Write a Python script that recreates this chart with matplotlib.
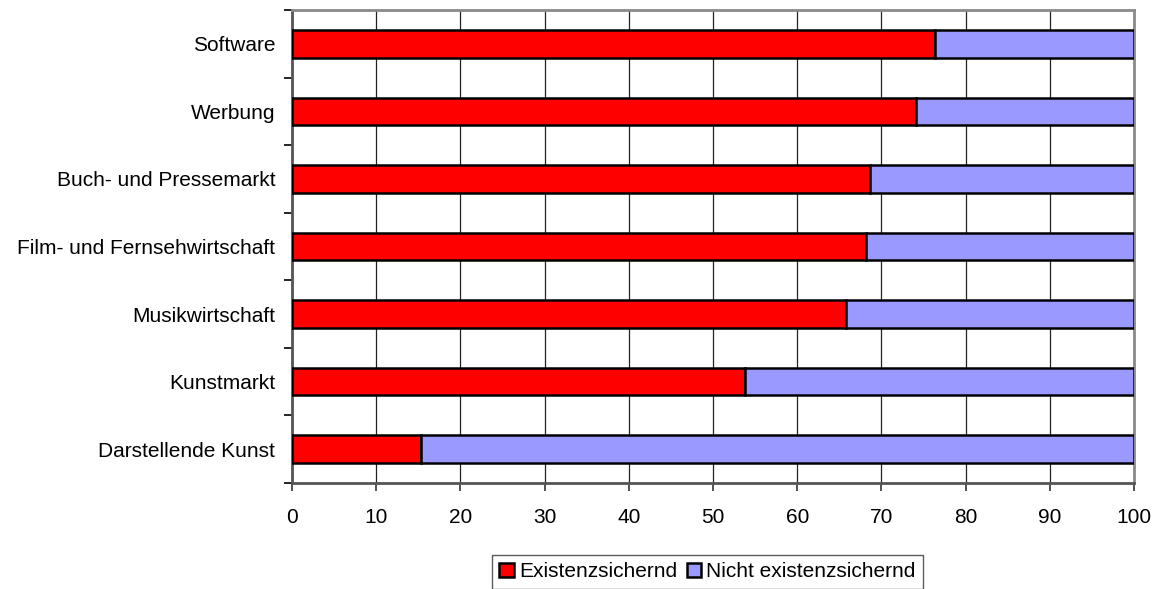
import matplotlib
matplotlib.use("Agg")
import matplotlib.pyplot as plt
from matplotlib.patches import Patch

categories = ["Software", "Werbung", "Buch- und Pressemarkt", "Film- und Fernsehwirtschaft",
              "Musikwirtschaft", "Kunstmarkt", "Darstellende Kunst"]
existenz = [76.4, 74.1, 68.7, 68.2, 65.8, 53.8, 15.3]
nicht = [100 - v for v in existenz]
series_names = ["Existenzsichernd", "Nicht existenzsichernd"]
colors = ["#FF0000", "#9999FF"]
xticks = [0, 10, 20, 30, 40, 50, 60, 70, 80, 90, 100]

plt.rcParams['font.family'] = ['Liberation Sans', 'DejaVu Sans']
fig = plt.figure(figsize=(11.58, 5.89), dpi=100)
W, H = 1158, 589
ax = fig.add_axes([292 / W, 1 - 483 / H, (1134 - 292) / W, (483 - 10) / H])

FS = 15
n = len(categories)
ypos = [n - 1 - i for i in range(n)]
ax.barh(ypos, existenz, height=0.41, color=colors[0], edgecolor="black", linewidth=1.8, zorder=3)
ax.barh(ypos, nicht, left=existenz, height=0.41, color=colors[1], edgecolor="black", linewidth=1.8, zorder=3)

ax.set_xlim(0, 100)
ax.set_ylim(-0.5, n - 0.5)
ax.set_xticks(xticks)
ax.set_xticklabels([str(t) for t in xticks], fontsize=FS)
ax.set_yticks(ypos)
ax.set_yticklabels(categories, fontsize=FS)
ax.tick_params(axis='y', length=0, pad=12)
ax.set_yticks([i - 0.5 for i in range(n + 1)], minor=True)
ax.tick_params(axis='y', which='minor', length=5.5, width=1.2, color='black')
ax.tick_params(axis='x', length=6, width=1.2, pad=12, color='#333333')
ax.xaxis.grid(True, color='#222222', linewidth=0.9, zorder=0)
ax.set_axisbelow(True)
for s in ['top', 'right']:
    ax.spines[s].set_color('#8a8a8a')
    ax.spines[s].set_linewidth(2)
for s in ['left', 'bottom']:
    ax.spines[s].set_color('#555555')
    ax.spines[s].set_linewidth(2)

handles = [Patch(facecolor=c, edgecolor='black', linewidth=1.8) for c in colors]
leg = fig.legend(handles, series_names, loc='upper left', bbox_to_anchor=(492 / W, 1 - 555 / H),
                 ncol=2, fontsize=FS, frameon=True, fancybox=False, edgecolor='#333333',
                 handlelength=0.7, handleheight=0.7, handletextpad=0.25, columnspacing=0.45,
                 borderpad=0.35, borderaxespad=0)
leg.get_frame().set_linewidth(1.0)

fig.savefig("out.png", dpi=100)
